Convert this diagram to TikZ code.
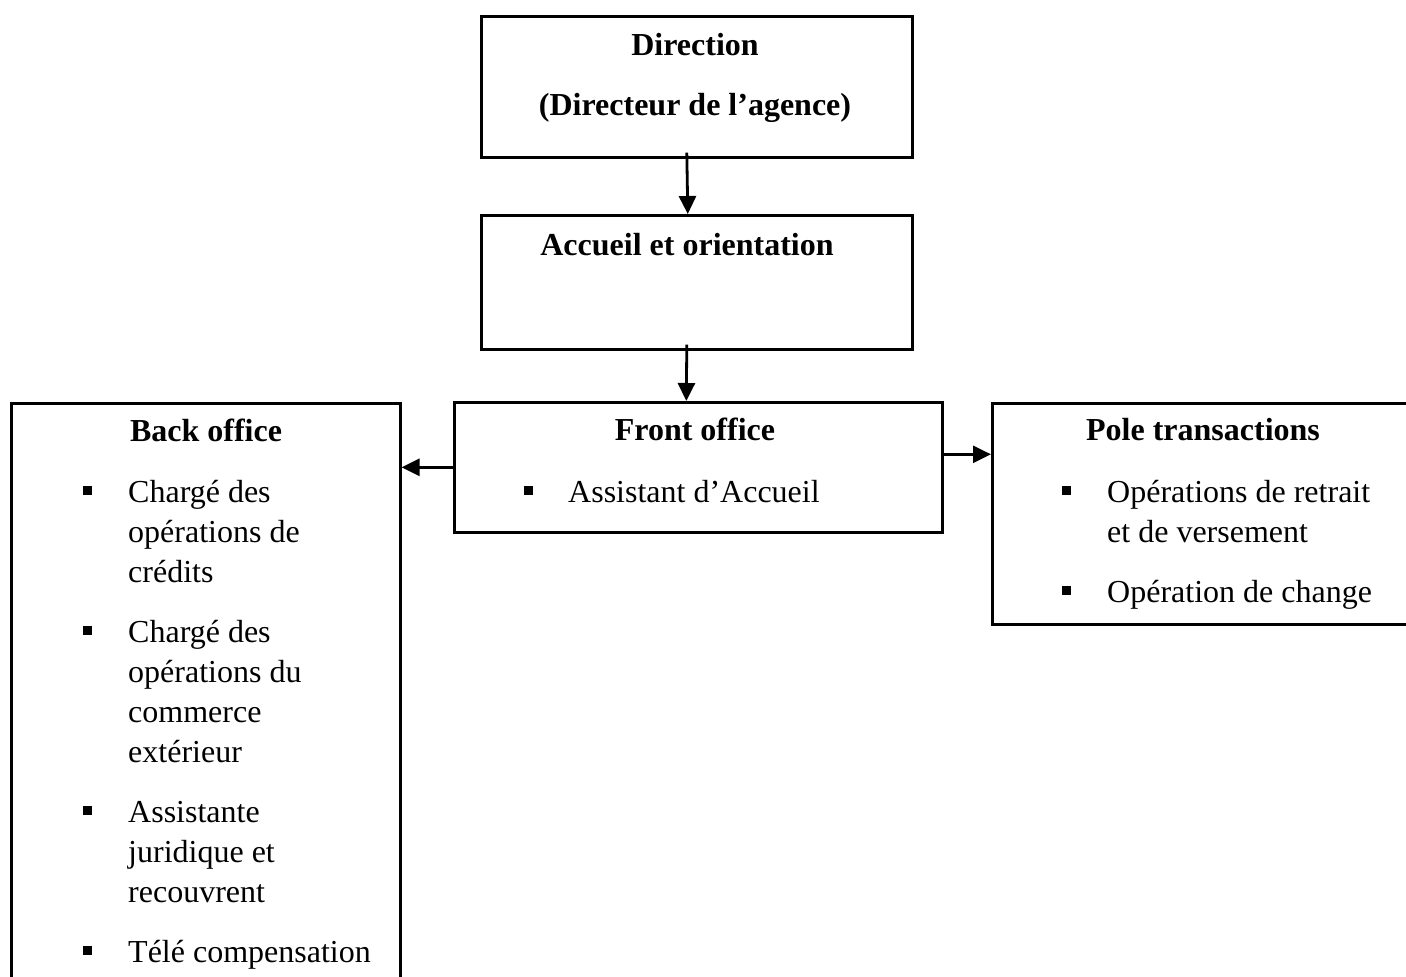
\documentclass[tikz,border=0pt]{standalone}
\usepackage{fontspec}
\setmainfont{Liberation Serif}
\usetikzlibrary{arrows.meta}

\begin{document}
\begin{tikzpicture}[
  x=1pt, y=1pt,
  every node/.style={font=\fontsize{32}{40}\selectfont, inner sep=0pt},
  unit/.style={draw, line width=2.6pt, anchor=north west},
  title/.style={font=\fontsize{32}{40}\selectfont\bfseries, anchor=base},
  item/.style={anchor=base west, align=left},
  square/.style={fill, minimum size=9pt},
  link/.style={-{Triangle[length=18pt,width=17pt]}, line width=2.8pt}
]
  \useasboundingbox (0,0) rectangle (1406,-977);
  \clip (0,0) rectangle (1406,-977);

  % boxes
  \node[unit, minimum width=431, minimum height=141] (dir) at (480,-15) {};
  \node[unit, minimum width=431, minimum height=134] (acc) at (480,-214) {};
  \node[unit, minimum width=488, minimum height=130] (front) at (453,-401) {};
  \node[unit, minimum width=389, minimum height=700] (back) at (10,-402) {};
  \node[unit, minimum width=424, minimum height=221] (pole) at (991,-402) {};

  % titles
  \node[title] (dirt) at (695,-55) {Direction};
  \node[title] (dira) at (695,-115) {(Directeur de l’agence)};
  \node[title] (acct) at (687,-255) {Accueil et orientation};
  \node[title] (frontt) at (695,-440) {Front office};
  \node[title] (backt) at (206,-441) {Back office};
  \node[title] (polet) at (1203,-440) {Pole transactions};

  % back office (items sit on the baseline of their last line)
  \node[square] (bs1) at (87,-490) {};
  \node[item] (b1) at (128,-582) {Chargé des\\opérations de\\crédits};
  \node[square] (bs2) at (87,-630) {};
  \node[item] (b2) at (128,-762) {Chargé des\\opérations du\\commerce\\extérieur};
  \node[square] (bs3) at (87,-810) {};
  \node[item] (b3) at (128,-902) {Assistante\\juridique et\\recouvrent};
  \node[square] (bs4) at (87,-950) {};
  \node[item] (b4) at (128,-962) {Télé compensation};

  % front office
  \node[square] (fs1) at (528,-490) {};
  \node[item] (f1) at (568,-502) {Assistant d’Accueil};

  % pole transactions
  \node[square] (ps1) at (1066,-490) {};
  \node[item] (p1) at (1107,-542) {Opérations de retrait\\et de versement};
  \node[square] (ps2) at (1066,-590) {};
  \node[item] (p2) at (1107,-602) {Opération de change};

  % links
  \draw[link] ([xshift=-10pt,yshift=6pt]dir.south) -- ([xshift=-9pt]acc.north);
  \draw[link] ([xshift=-10pt,yshift=6pt]acc.south) -- ([xshift=-12pt]front.north);
  \draw[link] (front.west) -- (front.west -| back.east);
  \coordinate (fe) at ([yshift=13pt]front.east);
  \draw[link] (fe) -- (fe -| pole.west);
\end{tikzpicture}
\end{document}
